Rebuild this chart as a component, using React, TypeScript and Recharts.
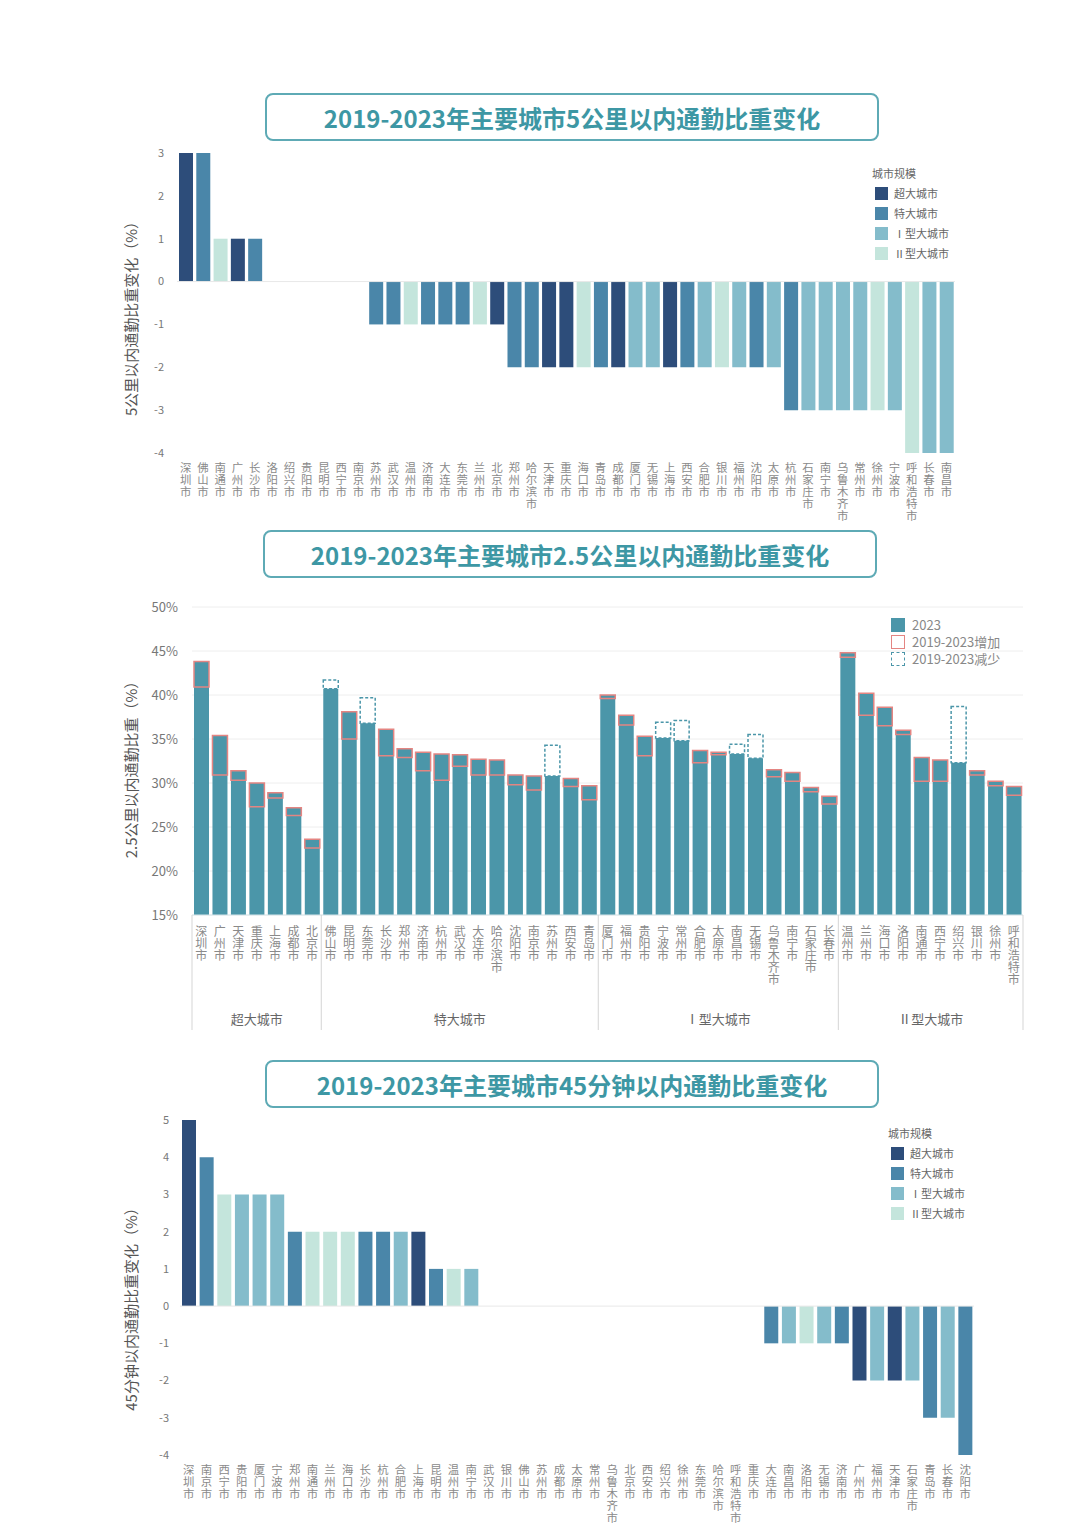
import React from 'react';
import { BarChart, Bar, XAxis, YAxis, Cell, CartesianGrid, ReferenceLine, Legend } from 'recharts';

const FONT = '"Noto Sans CJK SC", "Noto Sans", sans-serif';

const scaleNames = ['超大城市', '特大城市', 'Ⅰ型大城市', 'Ⅱ型大城市'];
const scaleColors = ['#2d4d7a', '#4a86a9', '#84bccb', '#c4e5dc'];

const superCities = ['深圳市', '广州市', '天津市', '重庆市', '上海市', '成都市', '北京市'];
const megaCities = ['佛山市', '昆明市', '东莞市', '长沙市', '郑州市', '济南市', '杭州市', '武汉市', '大连市', '哈尔滨市', '沈阳市', '南京市', '苏州市', '西安市', '青岛市'];
const type1Cities = ['厦门市', '福州市', '贵阳市', '宁波市', '常州市', '合肥市', '太原市', '南昌市', '无锡市', '乌鲁木齐市', '南宁市', '石家庄市', '长春市'];
const type2Cities = ['温州市', '兰州市', '海口市', '洛阳市', '南通市', '西宁市', '绍兴市', '银川市', '徐州市', '呼和浩特市'];
const groupLists = [superCities, megaCities, type1Cities, type2Cities];

// chart 1: 5km change
const cities5km = ['深圳市', '佛山市', '南通市', '广州市', '长沙市', '洛阳市', '绍兴市', '贵阳市', '昆明市', '西宁市', '南京市', '苏州市', '武汉市', '温州市', '济南市', '大连市', '东莞市', '兰州市', '北京市', '郑州市', '哈尔滨市', '天津市', '重庆市', '海口市', '青岛市', '成都市', '厦门市', '无锡市', '上海市', '西安市', '合肥市', '银川市', '福州市', '沈阳市', '太原市', '杭州市', '石家庄市', '南宁市', '乌鲁木齐市', '常州市', '徐州市', '宁波市', '呼和浩特市', '长春市', '南昌市'];
const change5km = [3, 3, 1, 1, 1, 0, 0, 0, 0, 0, 0, -1, -1, -1, -1, -1, -1, -1, -1, -2, -2, -2, -2, -2, -2, -2, -2, -2, -2, -2, -2, -2, -2, -2, -2, -3, -3, -3, -3, -3, -3, -3, -4, -4, -4];
const ticks5km = [-4, -3, -2, -1, 0, 1, 2, 3];

// chart 2: 2.5km share
const cities25 = [...superCities, ...megaCities, ...type1Cities, ...type2Cities];
const share2023 = [43.8, 35.4, 31.4, 30.0, 28.9, 27.2, 23.6, 40.7, 38.1, 36.8, 36.1, 33.9, 33.5, 33.3, 33.2, 32.7, 32.6, 30.9, 30.8, 30.8, 30.5, 29.7, 40.0, 37.7, 35.3, 35.1, 34.8, 33.7, 33.5, 33.3, 32.8, 31.5, 31.2, 29.5, 28.5, 44.8, 40.2, 38.6, 36.0, 32.9, 32.6, 32.3, 31.4, 30.2, 29.6];
const share2019 = [40.9, 30.9, 30.3, 27.3, 28.3, 26.3, 22.6, 41.7, 35.0, 39.7, 33.1, 32.9, 31.4, 30.3, 31.9, 30.9, 30.9, 29.8, 29.2, 34.3, 29.6, 28.1, 39.6, 36.6, 33.1, 36.9, 37.1, 32.3, 33.2, 34.4, 35.5, 30.7, 30.2, 29.0, 27.6, 44.3, 37.7, 36.5, 35.5, 30.2, 30.2, 38.7, 30.9, 29.7, 28.6];
const ticks25 = [15, 20, 25, 30, 35, 40, 45, 50];

// chart 3: 45min change
const cities45 = ['深圳市', '南京市', '西宁市', '贵阳市', '厦门市', '宁波市', '郑州市', '南通市', '兰州市', '海口市', '长沙市', '杭州市', '合肥市', '上海市', '昆明市', '温州市', '南宁市', '武汉市', '银川市', '佛山市', '苏州市', '成都市', '太原市', '常州市', '乌鲁木齐市', '北京市', '西安市', '绍兴市', '徐州市', '东莞市', '哈尔滨市', '呼和浩特市', '重庆市', '大连市', '南昌市', '洛阳市', '无锡市', '济南市', '广州市', '福州市', '天津市', '石家庄市', '青岛市', '长春市', '沈阳市'];
const change45 = [5, 4, 3, 3, 3, 3, 2, 2, 2, 2, 2, 2, 2, 2, 1, 1, 1, 0, 0, 0, 0, 0, 0, 0, 0, 0, 0, 0, 0, 0, 0, 0, 0, -1, -1, -1, -1, -1, -2, -2, -2, -2, -3, -3, -4];
const ticks45 = [-4, -3, -2, -1, 0, 1, 2, 3, 4, 5];

const scaleOf = (c: string) => groupLists.findIndex((g) => g.includes(c));

const TEAL = '#4b96a9';
const PINK = '#e48582';

// vertical label: one upright character per text element, stacked
const VText = ({ x, y, text, size, step }: any) => (
  <g>
    {Array.from(String(text)).map((ch, i) => (
      <text key={i} x={x} y={y + i * step} fill="#8a8a8a" fontSize={size} fontFamily={FONT} style={{ writingMode: 'vertical-rl' as any }}>
        {ch}
      </text>
    ))}
  </g>
);

const VTick = (props: any) => {
  const { x, y, payload } = props;
  return <VText x={x} y={y + 9} text={payload.value} size={11.4} step={12} />;
};

const YLabel = (props: any) => {
  const { viewBox, text, cx, dy } = props;
  const cy = viewBox.y + viewBox.height / 2 + (dy || 0);
  return (
    <text x={cx} y={cy} transform={`rotate(-90 ${cx} ${cy})`} textAnchor="middle" dominantBaseline="central" fontSize={15} fill="#555" fontFamily={FONT}>
      {text}
    </text>
  );
};

const ScaleLegend = () => (
  <div style={{ fontFamily: FONT, fontSize: 11, color: '#666', lineHeight: '14px' }}>
    <div style={{ marginBottom: 3, marginLeft: -3 }}>城市规模</div>
    {scaleNames.map((n, i) => (
      <div key={n} style={{ display: 'flex', alignItems: 'center', height: 20 }}>
        <span style={{ display: 'inline-block', width: 13, height: 13, background: scaleColors[i], marginRight: 6 }} />
        <span>{n}</span>
      </div>
    ))}
  </div>
);

const Title = ({ text, left, top, width, height }: any) => (
  <div style={{ position: 'absolute', left, top, width, height, boxSizing: 'border-box', border: '2px solid #5eaab5', borderRadius: 8, display: 'flex', alignItems: 'center', justifyContent: 'center', fontFamily: FONT, fontWeight: 700, fontSize: 24, color: '#3d97a4' }}>
    {text}
  </div>
);

function ChangeChart({ top, height, cities, values, ticks, yLabel, plotLeft, plotRight, plotTop, plotBottom, barSize, labelDy, legendLeft, legendTop, tickMargin }: any) {
  const data = cities.map((c: string, i: number) => ({ name: c, value: values[i], scale: scaleOf(c) }));
  return (
    <div style={{ position: 'absolute', left: 0, top }}>
      <BarChart width={1080} height={height} data={data} margin={{ top: plotTop - top, right: 1080 - plotRight, left: 0, bottom: 0 }} barCategoryGap={0}>
        <ReferenceLine y={0} stroke="#e8e8e8" />
        <XAxis dataKey="name" interval={0} tickLine={false} axisLine={false} tickSize={0} tickMargin={0} height={top + height - plotBottom} tick={<VTick />} />
        <YAxis width={plotLeft} domain={[ticks[0], ticks[ticks.length - 1]]} ticks={ticks} tickLine={false} axisLine={false} tickMargin={tickMargin} tick={{ fontSize: 11, fill: '#777', fontFamily: FONT }} label={<YLabel text={yLabel} cx={130} dy={labelDy} />} />
        <Bar dataKey="value" barSize={barSize} isAnimationActive={false}>
          {data.map((d: any, i: number) => (
            <Cell key={i} fill={scaleColors[d.scale]} />
          ))}
        </Bar>
        <Legend layout="vertical" align="center" verticalAlign="middle" content={() => <ScaleLegend />} wrapperStyle={{ left: legendLeft, top: legendTop - top, width: 100 }} />
      </BarChart>
    </div>
  );
}

const groupSizes = groupLists.map((g) => g.length);
const groupStarts = groupSizes.map((_, i) => groupSizes.slice(0, i).reduce((a, b) => a + b, 0));

const PLOT2_LEFT = 192;
const PLOT2_RIGHT = 1023;
const STEP2 = (PLOT2_RIGHT - PLOT2_LEFT) / cities25.length;

const GroupTick = (props: any) => {
  const { x, y, payload, index } = props;
  const parts: any[] = [];
  const gi = groupStarts.indexOf(index);
  if (gi >= 0) {
    parts.push(<line key="l" x1={x - STEP2 / 2} x2={x - STEP2 / 2} y1={y} y2={y + 115} stroke="#d5d5d5" />);
  }
  if (index === cities25.length - 1) {
    parts.push(<line key="r" x1={x + STEP2 / 2} x2={x + STEP2 / 2} y1={y} y2={y + 115} stroke="#d5d5d5" />);
  }
  groupStarts.forEach((s, g) => {
    const n = groupSizes[g];
    const mid = s + Math.floor((n - 1) / 2);
    if (index === mid) {
      const gx = x + (n % 2 === 0 ? STEP2 / 2 : 0);
      parts.push(
        <text key="g" x={gx} y={y + 109} textAnchor="middle" fontSize={13} fill="#666" fontFamily={FONT}>{scaleNames[g]}</text>
      );
    }
  });
  return (
    <g>
      {parts}
      <VText x={x} y={y + 10} text={payload.value} size={12} step={12.2} />
    </g>
  );
};

const ShareLegend = () => (
  <div style={{ fontFamily: FONT, fontSize: 13, color: '#888', lineHeight: '16px' }}>
    <div style={{ display: 'flex', alignItems: 'center', height: 17 }}>
      <span style={{ display: 'inline-block', width: 14, height: 14, background: TEAL, marginRight: 7 }} />2023
    </div>
    <div style={{ display: 'flex', alignItems: 'center', height: 17 }}>
      <span style={{ display: 'inline-block', width: 12, height: 12, border: `1.5px solid ${PINK}`, marginRight: 7 }} />2019-2023增加
    </div>
    <div style={{ display: 'flex', alignItems: 'center', height: 17 }}>
      <span style={{ display: 'inline-block', width: 12, height: 12, border: `1.5px dashed ${TEAL}`, marginRight: 7 }} />2019-2023减少
    </div>
  </div>
);

function ShareChart() {
  const top = 580;
  const height = 460;
  const data = cities25.map((c, i) => ({
    name: c,
    base: [15, Math.min(share2019[i], share2023[i])],
    inc: share2023[i] > share2019[i] ? [share2019[i], share2023[i]] : null,
    dec: share2019[i] > share2023[i] ? [share2023[i], share2019[i]] : null,
  }));
  return (
    <div style={{ position: 'absolute', left: 0, top }}>
      <BarChart width={1080} height={height} data={data} margin={{ top: 607 - top, right: 1080 - PLOT2_RIGHT, left: 0, bottom: 0 }} barCategoryGap={0}>
        <CartesianGrid vertical={false} stroke="#eeeeee" />
        <XAxis xAxisId="main" dataKey="name" interval={0} tickLine={false} axisLine={{ stroke: '#d8e6ea' }} tickSize={0} tickMargin={0} height={top + height - 915} tick={<GroupTick />} />
        <XAxis xAxisId="inc" dataKey="name" hide height={0} />
        <XAxis xAxisId="dec" dataKey="name" hide height={0} />
        <YAxis width={PLOT2_LEFT} domain={[15, 50]} ticks={ticks25} allowDataOverflow tickLine={false} axisLine={false} tickMargin={8} tickFormatter={(v: number) => `${v}%`} tick={{ fontSize: 13, fill: '#777', fontFamily: FONT }} label={<YLabel text="2.5公里以内通勤比重（%）" cx={130} dy={5} />} />
        <Bar xAxisId="main" dataKey={(d: any) => d.base} barSize={15} fill={TEAL} isAnimationActive={false} />
        <Bar xAxisId="inc" dataKey={(d: any) => d.inc} barSize={15} fill={TEAL} stroke={PINK} strokeWidth={1.5} isAnimationActive={false} />
        <Bar xAxisId="dec" dataKey={(d: any) => d.dec} barSize={15} fill="none" stroke={TEAL} strokeWidth={1.5} strokeDasharray="3 2" isAnimationActive={false} />
        <Legend layout="vertical" align="center" verticalAlign="middle" content={() => <ShareLegend />} wrapperStyle={{ left: 891, top: 616 - top, width: 140 }} />
      </BarChart>
    </div>
  );
}

export default function App() {
  return (
    <div style={{ position: 'absolute', left: 0, top: 0, width: 1080, height: 1525, background: '#fff', overflow: 'hidden' }}>
      <Title text="2019-2023年主要城市5公里以内通勤比重变化" left={265} top={93} width={614} height={48} />
      <ChangeChart top={140} height={400} cities={cities5km} values={change5km} ticks={ticks5km} yLabel="5公里以内通勤比重变化（%）" plotLeft={177} plotRight={955} plotTop={153} plotBottom={453} barSize={14} labelDy={12} legendLeft={875} legendTop={166} tickMargin={7} />
      <Title text="2019-2023年主要城市2.5公里以内通勤比重变化" left={263} top={530} width={614} height={48} />
      <ShareChart />
      <Title text="2019-2023年主要城市45分钟以内通勤比重变化" left={265} top={1060} width={614} height={48} />
      <ChangeChart top={1110} height={415} cities={cities45} values={change45} ticks={ticks45} yLabel="45分钟以内通勤比重变化（%）" plotLeft={180} plotRight={974} plotTop={1120} plotBottom={1455} barSize={14} labelDy={18} legendLeft={891} legendTop={1126} tickMargin={5} />
    </div>
  );
}
